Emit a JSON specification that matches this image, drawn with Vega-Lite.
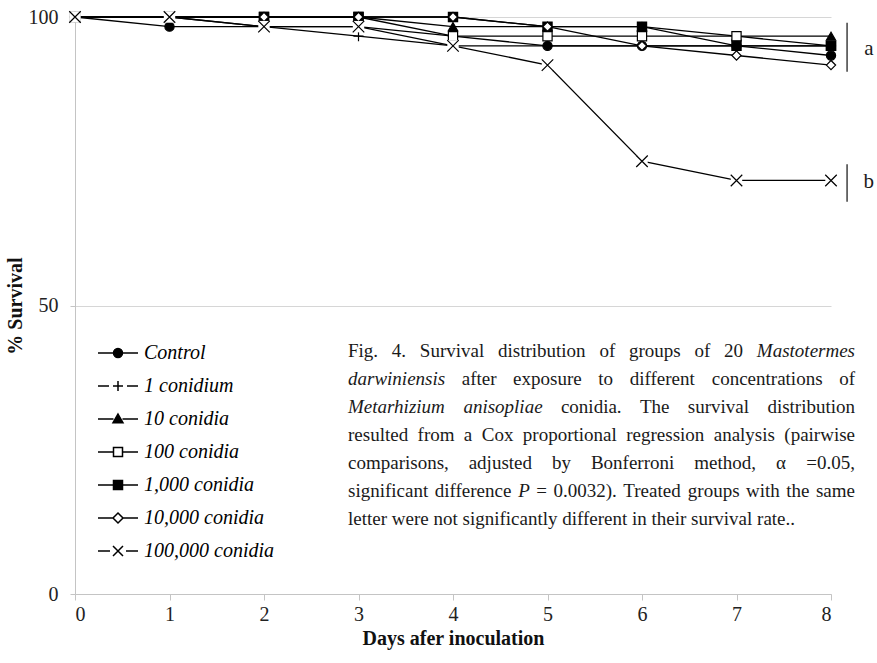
{
  "$schema": "https://vega.github.io/schema/vega-lite/v6.json",
  "width": 756,
  "height": 577,
  "autosize": "none",
  "padding": {"left": 75, "top": 17, "right": 46, "bottom": 69},
  "background": "white",
  "config": {"view": {"stroke": null}, "font": "Liberation Serif, DejaVu Serif, serif"},
  "datasets": {
    "survival": [
      {"series": "Control", "day": 0, "pct": 100}, {"series": "Control", "day": 1, "pct": 98.33}, {"series": "Control", "day": 2, "pct": 98.33},
      {"series": "Control", "day": 3, "pct": 98.33}, {"series": "Control", "day": 4, "pct": 96.67}, {"series": "Control", "day": 5, "pct": 95},
      {"series": "Control", "day": 6, "pct": 95}, {"series": "Control", "day": 7, "pct": 95}, {"series": "Control", "day": 8, "pct": 93.33},
      {"series": "1 conidium", "day": 0, "pct": 100}, {"series": "1 conidium", "day": 1, "pct": 100}, {"series": "1 conidium", "day": 2, "pct": 98.33},
      {"series": "1 conidium", "day": 3, "pct": 96.67}, {"series": "1 conidium", "day": 4, "pct": 95}, {"series": "1 conidium", "day": 5, "pct": 95},
      {"series": "1 conidium", "day": 6, "pct": 95}, {"series": "1 conidium", "day": 7, "pct": 95}, {"series": "1 conidium", "day": 8, "pct": 95},
      {"series": "10 conidia", "day": 0, "pct": 100}, {"series": "10 conidia", "day": 1, "pct": 100}, {"series": "10 conidia", "day": 2, "pct": 100},
      {"series": "10 conidia", "day": 3, "pct": 100}, {"series": "10 conidia", "day": 4, "pct": 98.33}, {"series": "10 conidia", "day": 5, "pct": 98.33},
      {"series": "10 conidia", "day": 6, "pct": 98.33}, {"series": "10 conidia", "day": 7, "pct": 96.67}, {"series": "10 conidia", "day": 8, "pct": 96.67},
      {"series": "100 conidia", "day": 0, "pct": 100}, {"series": "100 conidia", "day": 1, "pct": 100}, {"series": "100 conidia", "day": 2, "pct": 100},
      {"series": "100 conidia", "day": 3, "pct": 100}, {"series": "100 conidia", "day": 4, "pct": 96.67}, {"series": "100 conidia", "day": 5, "pct": 96.67},
      {"series": "100 conidia", "day": 6, "pct": 96.67}, {"series": "100 conidia", "day": 7, "pct": 96.67}, {"series": "100 conidia", "day": 8, "pct": 95},
      {"series": "1,000 conidia", "day": 0, "pct": 100}, {"series": "1,000 conidia", "day": 1, "pct": 100}, {"series": "1,000 conidia", "day": 2, "pct": 100},
      {"series": "1,000 conidia", "day": 3, "pct": 100}, {"series": "1,000 conidia", "day": 4, "pct": 100}, {"series": "1,000 conidia", "day": 5, "pct": 98.33},
      {"series": "1,000 conidia", "day": 6, "pct": 98.33}, {"series": "1,000 conidia", "day": 7, "pct": 95}, {"series": "1,000 conidia", "day": 8, "pct": 95},
      {"series": "10,000 conidia", "day": 0, "pct": 100}, {"series": "10,000 conidia", "day": 1, "pct": 100}, {"series": "10,000 conidia", "day": 2, "pct": 100},
      {"series": "10,000 conidia", "day": 3, "pct": 100}, {"series": "10,000 conidia", "day": 4, "pct": 100}, {"series": "10,000 conidia", "day": 5, "pct": 98.33},
      {"series": "10,000 conidia", "day": 6, "pct": 95}, {"series": "10,000 conidia", "day": 7, "pct": 93.33}, {"series": "10,000 conidia", "day": 8, "pct": 91.67},
      {"series": "100,000 conidia", "day": 0, "pct": 100}, {"series": "100,000 conidia", "day": 1, "pct": 100}, {"series": "100,000 conidia", "day": 2, "pct": 98.33},
      {"series": "100,000 conidia", "day": 3, "pct": 98.33}, {"series": "100,000 conidia", "day": 4, "pct": 95}, {"series": "100,000 conidia", "day": 5, "pct": 91.67},
      {"series": "100,000 conidia", "day": 6, "pct": 75}, {"series": "100,000 conidia", "day": 7, "pct": 71.67}, {"series": "100,000 conidia", "day": 8, "pct": 71.67}
    ]
  },
  "encoding": {
    "x": {
      "field": "day",
      "type": "quantitative",
      "scale": {"domain": [0, 8], "nice": false, "zero": false},
      "axis": {
        "title": "Days afer inoculation",
        "values": [0, 1, 2, 3, 4, 5, 6, 7, 8],
        "format": "d",
        "grid": false,
        "domainColor": "#c4c4c4",
        "tickColor": "#c4c4c4",
        "tickSize": 6,
        "labelFont": "Liberation Serif, DejaVu Serif, serif",
        "labelFontSize": 20,
        "labelColor": "#222",
        "labelPadding": 4,
        "titleFont": "Liberation Serif, DejaVu Serif, serif",
        "titleFontSize": 20,
        "titleFontWeight": "bold",
        "titleColor": "#111",
        "titlePadding": 4
      }
    },
    "y": {
      "field": "pct",
      "type": "quantitative",
      "scale": {"domain": [0, 100], "nice": false},
      "axis": {
        "title": "% Survival",
        "values": [0, 50, 100],
        "grid": true,
        "gridColor": "#d6d6d6",
        "domainColor": "#c4c4c4",
        "tickColor": "#c4c4c4",
        "tickSize": 5,
        "labelFont": "Liberation Serif, DejaVu Serif, serif",
        "labelFontSize": 20,
        "labelColor": "#222",
        "labelPadding": 12,
        "titleFont": "Liberation Serif, DejaVu Serif, serif",
        "titleFontSize": 20,
        "titleFontWeight": "bold",
        "titleColor": "#111",
        "titlePadding": 3
      }
    }
  },
  "resolve": {"scale": {"shape": "independent", "fill": "independent"}},
  "layer": [
    {
      "data": {"name": "survival"},
      "mark": {"type": "line", "color": "black", "strokeWidth": 1.3},
      "encoding": {"detail": {"field": "series"}}
    },
    {
      "data": {"name": "survival"},
      "transform": [{"filter": "datum.series !== '100,000 conidia'"}],
      "mark": {"type": "point", "filled": true, "stroke": "black", "strokeWidth": 1.2, "opacity": 1, "size": 85},
      "encoding": {
        "fill": {
          "field": "series",
          "type": "nominal",
          "scale": {
            "domain": ["Control", "1 conidium", "10 conidia", "100 conidia", "1,000 conidia", "10,000 conidia", "100,000 conidia"],
            "range": ["black", "black", "black", "white", "black", "white", "black"]
          },
          "legend": null
        },
        "shape": {
          "field": "series",
          "type": "nominal",
          "scale": {
            "domain": ["Control", "1 conidium", "10 conidia", "100 conidia", "1,000 conidia", "10,000 conidia", "100,000 conidia"],
            "range": ["circle", "M-1.1,0H1.1M0,-1.1V1.1", "triangle-up", "square", "square", "diamond", "M-1.25,-1.25L1.25,1.25M-1.25,1.25L1.25,-1.25"]
          },
          "legend": null
        }
      }
    },
    {
      "data": {"name": "survival"},
      "transform": [{"filter": "datum.series === '100,000 conidia'"}],
      "mark": {"type": "point", "shape": "square", "filled": true, "fill": "white", "strokeWidth": 0, "opacity": 1, "size": 130}
    },
    {
      "data": {"name": "survival"},
      "transform": [{"filter": "datum.series === '100,000 conidia'"}],
      "mark": {"type": "point", "shape": "M-1.25,-1.25L1.25,1.25M-1.25,1.25L1.25,-1.25", "filled": false, "stroke": "black", "strokeWidth": 1.2, "opacity": 1, "size": 85}
    },
    {
      "data": {"name": "survival"},
      "transform": [{"filter": "false"}],
      "mark": {"type": "point", "filled": true, "stroke": "black", "strokeWidth": 1.2, "opacity": 1, "size": 100},
      "encoding": {
        "fill": {
          "field": "series",
          "type": "nominal",
          "scale": {
            "domain": ["Control", "1 conidium", "10 conidia", "100 conidia", "1,000 conidia", "10,000 conidia", "100,000 conidia"],
            "range": ["black", "black", "black", "white", "black", "white", "black"]
          },
          "legend": {
            "orient": "none",
            "legendX": 33,
            "legendY": 326,
            "title": null,
            "padding": 0,
            "symbolSize": 100,
            "labelFont": "Liberation Serif, DejaVu Serif, serif",
            "labelFontSize": 20,
            "labelFontStyle": "italic",
            "labelColor": "black",
            "labelOffset": 16,
            "rowPadding": 13,
            "labelLimit": 300
          }
        },
        "shape": {
          "field": "series",
          "type": "nominal",
          "scale": {
            "domain": ["Control", "1 conidium", "10 conidia", "100 conidia", "1,000 conidia", "10,000 conidia", "100,000 conidia"],
            "range": [
              "M-4,0H-0.9M0.9,0H4M0.9,0A0.9,0.9,0,1,1,-0.9,0A0.9,0.9,0,1,1,0.9,0Z",
              "M-4,0H-1.8M-1,0H1M1.8,0H4M0,-1V1",
              "M-4,0H-0.9M0.9,0H4M0,-1L1,0.75L-1,0.75Z",
              "M-4,0H-0.9M0.9,0H4M-0.9,-0.9H0.9V0.9H-0.9Z",
              "M-4,0H-0.9M0.9,0H4M-0.9,-0.9H0.9V0.9H-0.9Z",
              "M-4,0H-1M1,0H4M0,-1L1,0L0,1L-1,0Z",
              "M-4,0H-1.6M1.6,0H4M-1,-1L1,1M-1,1L1,-1"
            ]
          },
          "legend": {
            "orient": "none",
            "legendX": 33,
            "legendY": 326,
            "title": null,
            "padding": 0,
            "symbolSize": 100,
            "labelFont": "Liberation Serif, DejaVu Serif, serif",
            "labelFontSize": 20,
            "labelFontStyle": "italic",
            "labelColor": "black",
            "labelOffset": 16,
            "rowPadding": 13,
            "labelLimit": 300
          }
        }
      }
    },
    {
      "data": {"values": [
        {"day": 2.889, "pct": 42.11, "text": "Fig."},
        {"day": 3.353, "pct": 42.11, "text": "4."},
        {"day": 3.649, "pct": 42.11, "text": "Survival"},
        {"day": 4.476, "pct": 42.11, "text": "distribution"},
        {"day": 5.549, "pct": 42.11, "text": "of"},
        {"day": 5.862, "pct": 42.11, "text": "groups"},
        {"day": 6.555, "pct": 42.11, "text": "of"},
        {"day": 6.868, "pct": 42.11, "text": "20"},
        {"day": 4.092, "pct": 37.26, "text": "after"},
        {"day": 4.636, "pct": 37.26, "text": "exposure"},
        {"day": 5.538, "pct": 37.26, "text": "to"},
        {"day": 5.870, "pct": 37.26, "text": "different"},
        {"day": 6.738, "pct": 37.26, "text": "concentrations"},
        {"day": 5.142, "pct": 32.41, "text": "conidia."},
        {"day": 5.978, "pct": 32.41, "text": "The"},
        {"day": 6.485, "pct": 32.41, "text": "survival"},
        {"day": 2.889, "pct": 27.56, "text": "resulted"},
        {"day": 3.625, "pct": 27.56, "text": "from"},
        {"day": 4.115, "pct": 27.56, "text": "a"},
        {"day": 4.304, "pct": 27.56, "text": "Cox"},
        {"day": 4.739, "pct": 27.56, "text": "proportional"},
        {"day": 5.833, "pct": 27.56, "text": "regression"},
        {"day": 6.759, "pct": 27.56, "text": "analysis"},
        {"day": 2.889, "pct": 22.70, "text": "comparisons,"},
        {"day": 4.166, "pct": 22.70, "text": "adjusted"},
        {"day": 5.047, "pct": 22.70, "text": "by"},
        {"day": 5.459, "pct": 22.70, "text": "Bonferroni"},
        {"day": 6.553, "pct": 22.70, "text": "method,"},
        {"day": 7.417, "pct": 22.70, "text": "α"},
        {"day": 2.889, "pct": 17.85, "text": "significant"},
        {"day": 3.806, "pct": 17.85, "text": "difference"},
        {"day": 4.881, "pct": 17.85, "text": "="},
        {"day": 5.063, "pct": 17.85, "text": "0.0032)."},
        {"day": 5.802, "pct": 17.85, "text": "Treated"},
        {"day": 6.485, "pct": 17.85, "text": "groups"},
        {"day": 7.101, "pct": 17.85, "text": "with"},
        {"day": 7.526, "pct": 17.85, "text": "the"},
        {"day": 2.889, "pct": 13.00, "text": "letter were not significantly different in their survival rate.."}
      ]},
      "mark": {"type": "text", "align": "left", "baseline": "middle", "font": "Liberation Serif, DejaVu Serif, serif", "fontSize": 19, "color": "#1a1a1a"},
      "encoding": {"text": {"field": "text"}}
    },
    {
      "data": {"values": [
        {"day": 8.254, "pct": 37.26, "text": "of"},
        {"day": 8.254, "pct": 32.41, "text": "distribution"},
        {"day": 8.254, "pct": 27.56, "text": "(pairwise"},
        {"day": 8.254, "pct": 22.70, "text": "=0.05,"},
        {"day": 8.254, "pct": 17.85, "text": "same"}
      ]},
      "mark": {"type": "text", "align": "right", "baseline": "middle", "font": "Liberation Serif, DejaVu Serif, serif", "fontSize": 19, "color": "#1a1a1a"},
      "encoding": {"text": {"field": "text"}}
    },
    {
      "data": {"values": [
        {"day": 2.889, "pct": 37.26, "text": "darwiniensis"},
        {"day": 2.889, "pct": 32.41, "text": "Metarhizium"},
        {"day": 4.110, "pct": 32.41, "text": "anisopliae"},
        {"day": 4.690, "pct": 17.85, "text": "P"}
      ]},
      "mark": {"type": "text", "align": "left", "baseline": "middle", "font": "Liberation Serif, DejaVu Serif, serif", "fontSize": 19, "fontStyle": "italic", "color": "#1a1a1a"},
      "encoding": {"text": {"field": "text"}}
    },
    {
      "data": {"values": [
        {"day": 8.254, "pct": 42.11, "text": "Mastotermes"}
      ]},
      "mark": {"type": "text", "align": "right", "baseline": "middle", "font": "Liberation Serif, DejaVu Serif, serif", "fontSize": 19, "fontStyle": "italic", "color": "#1a1a1a"},
      "encoding": {"text": {"field": "text"}}
    },
    {
      "data": {"values": [
        {"day": 8.17, "pct": 99, "pct2": 90.5},
        {"day": 8.17, "pct": 74.5, "pct2": 68}
      ]},
      "mark": {"type": "rule", "color": "#222", "strokeWidth": 1.3},
      "encoding": {"y2": {"field": "pct2"}}
    },
    {
      "data": {"values": [
        {"day": 8.40, "pct": 94.5, "text": "a"},
        {"day": 8.40, "pct": 71.4, "text": "b"}
      ]},
      "mark": {"type": "text", "align": "center", "baseline": "middle", "font": "Liberation Serif, DejaVu Serif, serif", "fontSize": 21, "color": "#1a1a1a"},
      "encoding": {"text": {"field": "text"}}
    }
  ]
}
